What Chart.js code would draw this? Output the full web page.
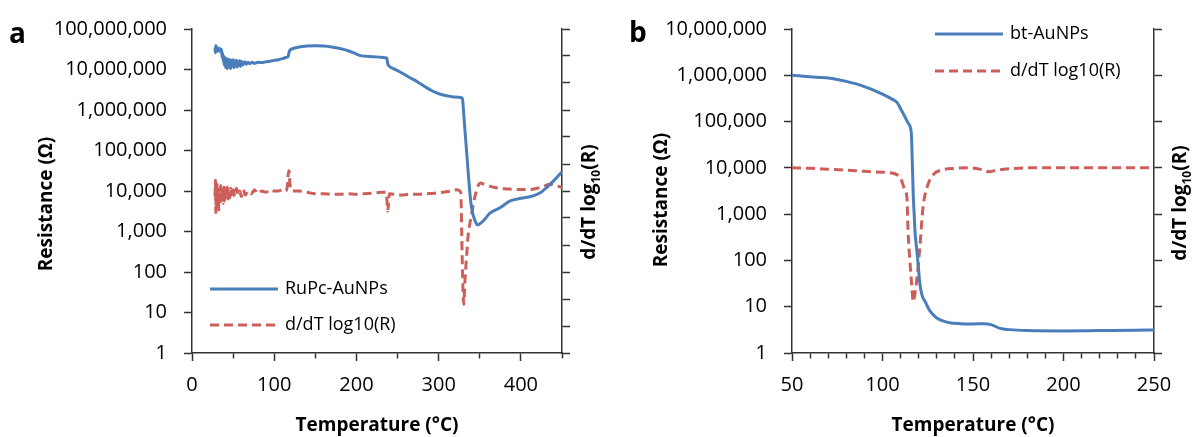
<!DOCTYPE html>
<html>
<head>
<meta charset="utf-8">
<script src="https://cdn.jsdelivr.net/npm/chart.js@4.4.1/dist/chart.umd.min.js"></script>
<style>
html,body{margin:0;padding:0;background:#fff;overflow:hidden;width:1198px;height:437px}
#wa{position:absolute;left:0;top:0;width:620px;height:437px}
#wb{position:absolute;left:600px;top:0;width:598px;height:437px}
</style>
</head>
<body>
<div id="wa"><canvas id="ca"></canvas></div>
<div id="wb"><canvas id="cb"></canvas></div>
<script>
// ---------------- DATA ----------------
// Panel a: RuPc-AuNPs resistance (Ω) vs temperature (°C)
const tempResA = [
  28,28.5,29,29.5,30,31,32,33,34,35,
  36,36.5,37,38,38.5,39,40,41,42,43,
  44,45,46,47,48,49,50,51,52,53,
  54,55,56,57,58,59,60,62,64,66,
  68,70,73,76,80,85,90,95,100,105,
  110,115,117,118,119,121,125,130,140,150,
  160,170,180,190,200,205,215,225,235,237,
  238,240,245,253,263,274,284,293,302,310,
  318,328,329,331,333,335,337,339,341,344,
  347,349,355,362,375,387,400,415,425,432,
  440,450];
const resA = [
  3.5e7,2.6e7,3.9e7,3.0e7,3.6e7,2.8e7,3.4e7,2.9e7,3.3e7,2.7e7,
  3.1e7,2.0e7,2.6e7,1.6e7,2.2e7,1.3e7,2.0e7,1.1e7,1.9e7,1.05e7,
  1.8e7,1.15e7,1.75e7,1.05e7,1.7e7,1.2e7,1.75e7,1.1e7,1.65e7,1.2e7,
  1.7e7,1.15e7,1.6e7,1.25e7,1.65e7,1.2e7,1.6e7,1.3e7,1.55e7,1.35e7,
  1.5e7,1.4e7,1.5e7,1.42e7,1.5e7,1.48e7,1.55e7,1.6e7,1.68e7,1.75e7,
  1.85e7,2.0e7,2.1e7,2.6e7,3.0e7,3.2e7,3.4e7,3.6e7,3.8e7,3.85e7,
  3.8e7,3.6e7,3.3e7,2.9e7,2.4e7,2.2e7,2.1e7,2.05e7,1.95e7,1.9e7,
  1.4e7,1.2e7,1.05e7,8.7e6,6.6e6,5.0e6,3.7e6,2.9e6,2.45e6,2.25e6,
  2.1e6,2.0e6,1.85e6,5.7e5,1.7e5,5.1e4,1.5e4,5.5e3,3.0e3,1.9e3,
  1.45e3,1.5e3,1.9e3,2.8e3,3.9e3,5.7e3,6.6e3,7.6e3,9.5e3,1.25e4,
  1.8e4,3.0e4];
// Panel a: d/dT log10(R) (right axis, unlabelled)
const tempDerivA = [
  28,28.5,29,29.5,30,30.5,31,32,32.5,33,
  34,35,36,37,38,39,40,41,42,43,
  44,45,46,47,48,50,52,54,56,58,
  60,62,65,68,72,76,80,85,90,95,
  100,105,110,114,116,117,118,119,120,122,
  130,140,150,160,170,180,190,200,210,220,
  230,236,237,238,239,240,245,255,265,275,
  285,295,305,315,322,326,327,328,329,330.5,
  332,334,336,338,340,342,345,348,351,355,
  362,370,380,395,410,420,428,435,442,450];
const derivA = [
  -0.02,0.04,-0.08,0.02,-0.06,0.03,-0.04,0.01,-0.07,0.0,
  -0.05,0.02,-0.03,0.01,-0.045,0.015,-0.035,0.01,-0.02,0.015,
  -0.03,0.005,-0.025,0.01,-0.02,0.005,-0.02,0.01,-0.015,0.0,
  -0.02,0.005,-0.015,0.0,-0.01,0.005,-0.01,0.0,-0.005,0.005,
  0.0,0.0,0.005,0.0,0.02,0.06,0.075,0.03,0.01,0.0,
  0.0,-0.005,-0.01,-0.01,-0.012,-0.012,-0.01,-0.012,-0.01,-0.008,
  -0.005,-0.005,-0.03,-0.075,-0.05,-0.01,-0.012,-0.015,-0.012,-0.012,
  -0.01,-0.008,-0.005,0.0,0.005,0.0,-0.01,-0.15,-0.30,-0.42,
  -0.33,-0.24,-0.16,-0.12,-0.09,-0.05,-0.01,0.02,0.03,0.025,
  0.018,0.012,0.008,0.006,0.005,0.01,0.018,0.025,0.02,0.014];

// Panel b: bt-AuNPs resistance (Ω) vs temperature (°C)
const tempResB = [
  50,55,60,65,70,75,80,85,90,95,
  100,105,108,110,112,114,115.5,116,116.5,117,
  117.5,118,119,119.6,120.7,122,123.5,126.2,130,133,
  137,143,150,156,160,165,170,180,200,220,
  240,250];
const resB = [
  1.0e6,9.6e5,9.3e5,9.0e5,8.7e5,8.1e5,7.4e5,6.6e5,5.7e5,4.8e5,
  3.9e5,3.1e5,2.6e5,1.9e5,1.35e5,9.5e4,7.2e4,5.0e4,1.2e4,2.5e3,
  1.0e3,4.0e2,1.6e2,90,30,17,13,8.1,5.7,5.0,
  4.5,4.3,4.25,4.3,4.1,3.4,3.2,3.05,3.0,3.05,
  3.1,3.15];
// Panel b: d/dT log10(R)
const tempDerivB = [
  50,60,70,80,90,100,105,108,110,111,
  112.5,113.5,114.1,115.2,116.3,116.9,118,119,120.7,122.4,
  124.6,127.9,133.4,140,148,155,159,163,170,180,
  250];
const derivB = [
  0,-0.002,-0.006,-0.01,-0.015,-0.019,-0.022,-0.03,-0.045,-0.065,
  -0.1,-0.13,-0.27,-0.41,-0.52,-0.578,-0.54,-0.48,-0.337,-0.169,
  -0.084,-0.03,-0.008,-0.002,0,-0.008,-0.017,-0.01,-0.004,0,
  0];

// Tick values
const resTicksA = [1,10,100,1000,10000,100000,1000000,10000000,100000000];
const resTicksB = [1,10,100,1000,10000,100000,1000000,10000000];
const tempTicksA = [0,50,100,150,200,250,300,350,400,450];
const tempTicksB = [50,60,70,80,90,100,110,120,130,140,150,160,170,180,190,200,210,220,230,240,250];
const derivTicksA = [-0.6,-0.5,-0.4,-0.3,-0.2,-0.1,0,0.1,0.2,0.3,0.4,0.5,0.6];
const derivTicksB = [-0.8,-0.6,-0.4,-0.2,0,0.2,0.4,0.6];

const seriesA = ['RuPc-AuNPs','d/dT log10(R)'];
const seriesB = ['bt-AuNPs','d/dT log10(R)'];

// ---------------- RENDER ----------------
Chart.defaults.font.family = "'Open Sans', sans-serif";
Chart.defaults.color = '#000';
const BLUE = '#4a7ebb', RED = '#cd5f5b', AXIS = '#333';
const FONT = "'Open Sans', sans-serif";

function drawRot(ctx, parts, x, y) {
  ctx.save();
  ctx.translate(x, y);
  ctx.rotate(-Math.PI / 2);
  ctx.textBaseline = 'middle';
  ctx.textAlign = 'left';
  let w = 0;
  parts.forEach(p => { ctx.font = `bold ${p.size}px ${FONT}`; p.w = ctx.measureText(p.t).width; w += p.w; });
  let cx = -w / 2;
  parts.forEach(p => { ctx.font = `bold ${p.size}px ${FONT}`; ctx.fillText(p.t, cx, p.sub || 0); cx += p.w; });
  ctx.restore();
}

const overlay = {
  id: 'overlay',
  afterDraw(chart, args, o) {
    const ctx = chart.ctx;
    ctx.save();
    ctx.fillStyle = '#000';
    ctx.font = `bold 28px ${FONT}`;
    ctx.textAlign = 'left';
    ctx.textBaseline = 'alphabetic';
    ctx.fillText(o.letter, o.letterX, o.letterY);
    drawRot(ctx, [{t: 'Resistance (Ω)', size: 19}], o.leftX, o.leftY);
    drawRot(ctx, [{t: 'd/dT log', size: 19}, {t: '10', size: 12, sub: 7}, {t: '(R)', size: 19}], o.rightX, o.rightY);
    chart.data.datasets.forEach((ds, i) => {
      const y = o.legendY[i];
      ctx.beginPath();
      ctx.strokeStyle = ds.borderColor;
      ctx.lineWidth = ds.borderWidth;
      ctx.setLineDash(ds.borderDash || []);
      ctx.moveTo(o.legendX0, y);
      ctx.lineTo(o.legendX1, y);
      ctx.stroke();
      ctx.setLineDash([]);
      ctx.font = `18px ${FONT}`;
      ctx.textBaseline = 'middle';
      ctx.textAlign = 'left';
      ctx.fillStyle = '#000';
      ctx.fillText(ds.label, o.legendTextX, y);
    });
    ctx.restore();
  }
};

function pts(xs, ys) { return xs.map((x, i) => ({x: x, y: ys[i]})); }

function build(id, p) {
  return new Chart(document.getElementById(id), {
    type: 'line',
    data: {
      datasets: [
        {label: p.names[0], data: pts(p.tR, p.R), yAxisID: 'y', borderColor: BLUE, borderWidth: 3,
         pointRadius: 0, cubicInterpolationMode: 'monotone', fill: false},
        {label: p.names[1], data: pts(p.tD, p.D), yAxisID: 'y2', borderColor: RED, borderWidth: 3,
         borderDash: [9, 5], pointRadius: 0, cubicInterpolationMode: 'monotone', fill: false}
      ]
    },
    options: {
      responsive: true, maintainAspectRatio: false, animation: false, devicePixelRatio: 1,
      layout: {padding: {top: 21, left: 0, right: 0, bottom: 0}},
      plugins: {legend: {display: false}, tooltip: {enabled: false}, overlay: p.overlay},
      scales: {
        x: {
          type: 'linear', position: 'bottom', min: p.xMin, max: p.xMax,
          afterBuildTicks: s => { s.ticks = p.xTicks.map(v => ({value: v})); },
          afterFit: s => { s.height = 84; },
          ticks: {autoSkip: false, maxRotation: 0, padding: 12, font: {size: 20}, color: '#000',
                  callback: v => (v % p.xLabelStep === 0 ? String(v) : '')},
          grid: {drawOnChartArea: false, drawTicks: true, tickLength: 8, tickColor: AXIS, tickWidth: 1.5,
                 tickBorderDash: c => (c.tick && c.tick.value % p.xLabelStep !== 0) ? [5, 50] : []},
          border: {display: true, color: AXIS, width: 1.5},
          title: {display: true, text: 'Temperature (°C)', font: {size: 19, weight: 'bold'}, color: '#000',
                  padding: {top: 0, bottom: 0}}
        },
        y: {
          type: 'logarithmic', position: 'left', min: p.yMin, max: p.yMax,
          afterBuildTicks: s => { s.ticks = p.yTicks.map(v => ({value: v})); },
          afterFit: s => { s.width = 192; },
          ticks: {padding: 17, font: {size: 20}, color: '#000', autoSkip: false,
                  callback: v => Number(v).toLocaleString('en-US')},
          grid: {drawOnChartArea: false, drawTicks: true, tickLength: 8, tickColor: AXIS, tickWidth: 1.5},
          border: {display: true, color: AXIS, width: 1.5}
        },
        y2: {
          type: 'linear', position: 'right', min: p.dMin, max: p.dMax,
          afterBuildTicks: s => { s.ticks = p.dTicks.map(v => ({value: v})); },
          afterFit: s => { s.width = p.rightW; },
          ticks: {display: false},
          grid: {drawOnChartArea: false, drawTicks: true, tickLength: 8, tickColor: AXIS, tickWidth: 1.5},
          border: {display: true, color: AXIS, width: 1.5}
        }
      }
    },
    plugins: [overlay]
  });
}

build('ca', {
  names: seriesA, tR: tempResA, R: resA, tD: tempDerivA, D: derivA,
  xMin: 0, xMax: 450, xTicks: tempTicksA, xLabelStep: 100,
  yMin: 1, yMax: 1e8, yTicks: resTicksA,
  dMin: -0.6, dMax: 0.6, dTicks: derivTicksA, rightW: 58,
  overlay: {letter: 'a', letterX: 9, letterY: 43, leftX: 47, leftY: 204, rightX: 590, rightY: 202,
            legendX0: 210, legendX1: 278, legendTextX: 285, legendY: [289, 325]}
});
build('cb', {
  names: seriesB, tR: tempResB, R: resB, tD: tempDerivB, D: derivB,
  xMin: 50, xMax: 250, xTicks: tempTicksB, xLabelStep: 50,
  yMin: 1, yMax: 1e7, yTicks: resTicksB,
  dMin: -0.8, dMax: 0.6, dTicks: derivTicksB, rightW: 44,
  overlay: {letter: 'b', letterX: 29, letterY: 42, leftX: 62, leftY: 200, rightX: 581, rightY: 203,
            legendX0: 335, legendX1: 403, legendTextX: 410, legendY: [34, 71]}
});
</script>
</body>
</html>
